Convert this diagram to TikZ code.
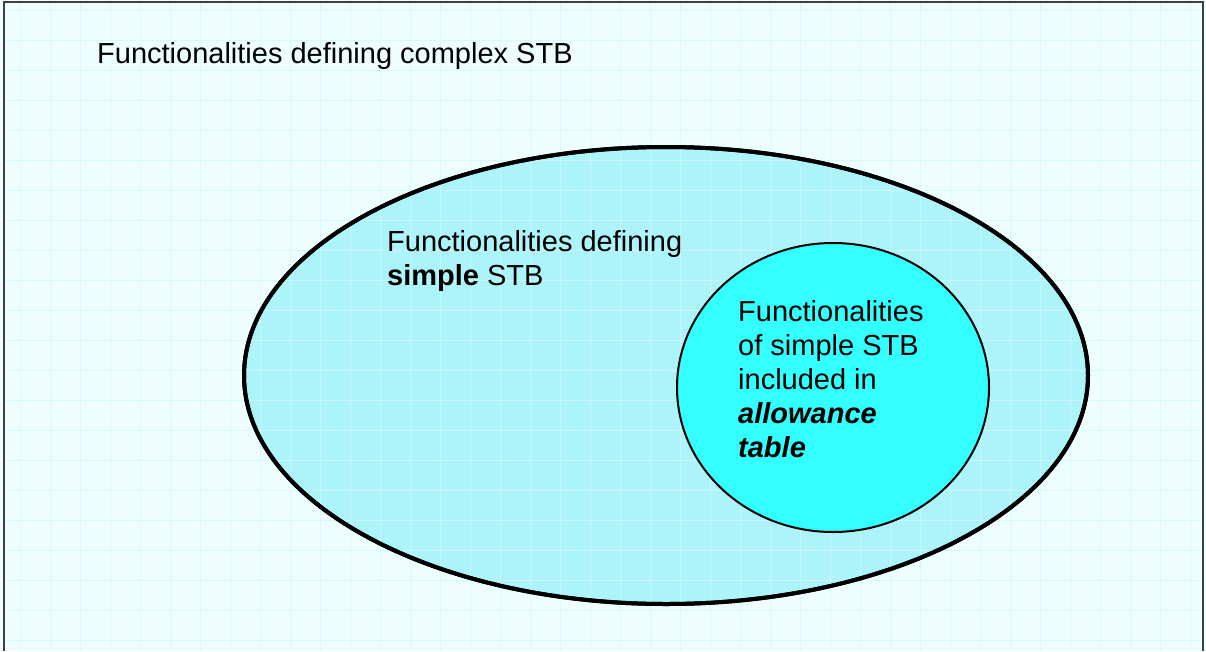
\documentclass[tikz,border=0pt]{standalone}
\usepackage{fontspec}
\setmainfont{Liberation Sans}
\usepackage{tikz}
\usetikzlibrary{shapes.geometric}
\definecolor{paleback}{RGB}{238,254,255}
\definecolor{gridcyan}{RGB}{214,249,251}
\definecolor{simplefill}{RGB}{172,244,249}
\definecolor{allowfill}{RGB}{51,255,255}
\newcommand{\stbfont}{\fontsize{29}{34}\selectfont}

\begin{document}
\begin{tikzpicture}[x=1pt, y=-1pt,
    label text/.style={font=\stbfont, inner sep=0pt, align=left, anchor=north west},
    grid line/.style={gridcyan, line width=0.7pt}]
    \useasboundingbox (0,0) rectangle (1206,651);

    % Background: the set of complex STB functionalities
    \fill[paleback] (0,0) rectangle (1206,651);
    \foreach \gx in {20,50,...,1200}
        \draw[grid line] (\gx,2) -- (\gx,651);
    \foreach \gy in {10,40,...,650}
        \draw[grid line] (4,\gy) -- (1203,\gy);
    \draw[black!75, line width=2pt] (4,651) -- (4,2) -- (1203,2) -- (1203,651);
    \node[label text] (complex) at (97,42) {Functionalities defining complex STB};

    % Ellipse: simple STB
    \node[ellipse, draw, line width=4pt, fill=simplefill,
          minimum width=844, minimum height=457] (simple) at (666,375.5) {};
    \begin{scope}
        \clip (simple.center) ellipse (420 and 226.5);
        \foreach \gx in {20,50,...,1200}
            \draw[grid line, white, opacity=0.35] (\gx,2) -- (\gx,651);
        \foreach \gy in {10,40,...,650}
            \draw[grid line, white, opacity=0.35] (4,\gy) -- (1203,\gy);
    \end{scope}
    \draw[line width=4pt] (simple.center) ellipse (422 and 228.5);
    \node[label text] (simpletext) at (387,230) {Functionalities defining\\\textbf{simple} STB};

    % Circle: allowance table
    \node[ellipse, draw, line width=2pt, fill=allowfill,
          minimum width=312, minimum height=289] (allow) at (833,387.5) {};
    \node[label text] (allowtext) at (738,300)
        {Functionalities\\of simple STB\\included in\\\textbf{\textit{allowance}}\\\textbf{\textit{table}}};
\end{tikzpicture}
\end{document}
